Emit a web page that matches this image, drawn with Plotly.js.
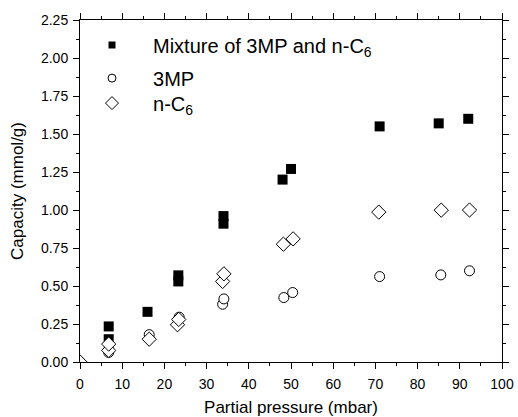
<!DOCTYPE html>
<html>
<head>
<meta charset="utf-8">
<script src="https://cdn.plot.ly/plotly-3.0.1.min.js"></script>
<style>html,body{margin:0;padding:0;background:#fff}#chart{width:518px;height:417px}</style>
</head>
<body>
<div id="chart"></div>
<script>
// Mixture of 3MP and n-C6 (filled squares)
var mixX = [6.8, 6.8, 16.0, 23.3, 23.3, 34.0, 34.0, 48.0, 50.0, 71.0, 85.0, 92.0];
var mixY = [0.234, 0.15, 0.33, 0.57, 0.53, 0.96, 0.91, 1.20, 1.27, 1.55, 1.57, 1.60];
// 3MP (open circles)
var mpX = [0, 6.8, 6.8, 16.4, 23.3, 23.5, 33.8, 34.1, 48.3, 50.4, 71.0, 85.5, 92.3];
var mpY = [0, 0.063, 0.08, 0.18, 0.28, 0.295, 0.38, 0.415, 0.424, 0.457, 0.562, 0.573, 0.60];
// n-C6 (open diamonds)
var hxX = [0, 6.8, 6.8, 16.4, 23.1, 23.4, 33.8, 34.1, 48.2, 50.5, 70.8, 85.6, 92.3];
var hxY = [0, 0.076, 0.118, 0.15, 0.245, 0.28, 0.53, 0.58, 0.775, 0.81, 0.986, 0.999, 1.0];

var names = ['Mixture of 3MP and n-C<sub>6</sub>', '3MP', 'n-C<sub>6</sub>'];
var xTitle = 'Partial pressure (mbar)';
var yTitle = 'Capacity (mmol/g)';

var FONT = 'Liberation Sans, Arial, Helvetica, sans-serif';
var symbols = ['square', 'circle', 'diamond'];
var fills = ['#000', '#fff', '#fff'];
var sizes = [10, 10, 11];
var legSizes = [7, 8, 10];
var legNames = ['legend', 'legend2', 'legend3'];
var xs = [mixX, mpX, hxX], ys = [mixY, mpY, hxY];

var traces = [];
for (var i = 0; i < 3; i++) {
  traces.push({x: xs[i], y: ys[i], name: names[i], mode: 'markers', type: 'scatter',
    showlegend: false,
    marker: {symbol: symbols[i], size: sizes[i], color: fills[i], line: {width: i === 0 ? 0 : 1, color: '#000'}}});
}
// legend-only entries (smaller symbols, as in the reference key)
for (var j = 0; j < 3; j++) {
  traces.push({x: [null], y: [null], name: names[j], mode: 'markers', type: 'scatter',
    showlegend: true, legend: legNames[j], hoverinfo: 'skip',
    marker: {symbol: symbols[j], size: legSizes[j], color: fills[j], line: {width: j === 0 ? 0 : 1, color: '#000'}}});
}

var axisCommon = {
  showgrid: false, zeroline: false, showline: true, linecolor: '#000', linewidth: 1,
  mirror: 'allticks', ticks: 'outside', ticklen: 6, tickwidth: 1, tickcolor: '#000',
  tickfont: {family: FONT, size: 14, color: '#000'}
};

function leg(yp) {
  return {x: -0.0213, y: yp, xanchor: 'left', yanchor: 'middle', bgcolor: 'rgba(0,0,0,0)',
          font: {family: FONT, size: 20, color: '#000'}, itemsizing: 'trace', itemwidth: 72};
}

var layout = {
  width: 518, height: 417,
  margin: {l: 80, r: 16, t: 20, b: 55},
  paper_bgcolor: '#fff', plot_bgcolor: '#fff',
  font: {family: FONT, color: '#000'},
  xaxis: Object.assign({}, axisCommon, {
    range: [0, 100], dtick: 10, tick0: 0, ticklabelstandoff: 3,
    minor: {dtick: 5, ticks: 'outside', ticklen: 3, tickcolor: '#000'},
    title: {text: xTitle, font: {family: FONT, size: 17}, standoff: 10}
  }),
  yaxis: Object.assign({}, axisCommon, {
    range: [0, 2.25], dtick: 0.25, tick0: 0, tickformat: '.2f', ticklabelstandoff: 2,
    minor: {dtick: 0.125, ticks: 'outside', ticklen: 3, tickcolor: '#000'},
    title: {text: yTitle, font: {family: FONT, size: 17}, standoff: 13}
  }),
  showlegend: true,
  legend: leg(0.927),
  legend2: leg(0.830),
  legend3: leg(0.757)
};

Plotly.newPlot('chart', traces, layout, {displayModeBar: false, staticPlot: true});
</script>
</body>
</html>
